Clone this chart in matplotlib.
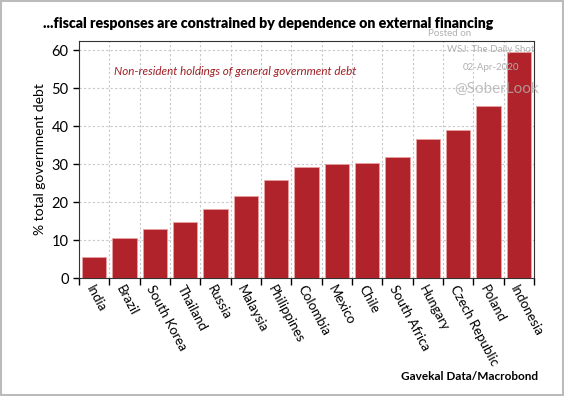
import matplotlib
matplotlib.use("Agg")
import matplotlib.pyplot as plt
import numpy as np

plt.rcParams['font.family'] = ['Lato', 'DejaVu Sans']

countries = ["India", "Brazil", "South Korea", "Thailand", "Russia", "Malaysia",
             "Philippines", "Colombia", "Mexico", "Chile", "South Africa",
             "Hungary", "Czech Republic", "Poland", "Indonesia"]
share = [5.6, 10.6, 12.8, 14.7, 18.1, 21.7, 25.9, 29.3, 30.0, 30.2, 31.8,
         36.6, 39.0, 45.3, 59.5]
yticks = [0, 10, 20, 30, 40, 50, 60]

fig = plt.figure(figsize=(5.64, 3.96), dpi=100)
ax = fig.add_axes([79/564, 1 - 278/396, (534 - 79)/564, (278 - 41)/396])

x = np.arange(len(countries))
ax.bar(x, share, width=0.8, color='#B0232A', edgecolor='#E8A0A0',
       linewidth=0.6, zorder=3)

ax.set_xlim(-0.5, len(countries) - 0.5)
ax.set_ylim(0, 62.4)
ax.set_yticks(yticks)
ax.set_xticks(np.arange(len(countries) + 1) - 0.5)
ax.set_xticklabels([])
ax.set_xticks(x, minor=True)
ax.set_xticklabels(countries, minor=True, rotation=-62, ha='left', va='top',
                   rotation_mode='anchor', fontsize=9.5)
ax.tick_params(axis='x', which='minor', length=0, pad=4)
ax.tick_params(axis='x', which='major', direction='out', length=5, width=1)
ax.tick_params(axis='y', direction='out', length=4, width=1, labelsize=10.5)
ax.grid(True, which='major', linestyle=(0, (2, 2)), color='#C8C8C8',
        linewidth=0.8, zorder=0)
for s in ax.spines.values():
    s.set_color('#333333')
ax.set_ylabel("% total government debt", fontsize=10)

ax.text(0.077, 0.873, "Non-resident holdings of general government debt",
        transform=ax.transAxes, color='#A01E22', fontsize=8.4, style='italic',
        va='center')

fig.text(43/564, 1 - 23/396, "...fiscal responses are constrained by dependence on external financing",
         ha='left', va='center', fontsize=10.2, fontweight='heavy')
fig.text(538/564, 1 - 376/396, "Gavekal Data/Macrobond", ha='right', va='center',
         fontsize=8.5, fontweight='bold')

# watermark
fig.text(450/564, 1 - 33/396, "Posted on", ha='center', va='center',
         fontsize=7, color='#B0B0B0')
fig.text(491/564, 1 - 50/396, "WSJ: The Daily Shot", ha='center', va='center',
         fontsize=7, color='#B0B0B0')
fig.text(491/564, 1 - 68/396, "02-Apr-2020", ha='center', va='center',
         fontsize=7, color='#B0B0B0')
fig.text(497/564, 1 - 89/396, "@SoberLook", ha='center', va='center',
         fontsize=11, color='#B0B0B0', alpha=0.8)

fig.patches.append(plt.Rectangle((0.002, 0.002), 0.996, 0.996, transform=fig.transFigure,
                                 fill=False, edgecolor='#BBBBBB', linewidth=1.5))

fig.savefig("out.png", dpi=100)
